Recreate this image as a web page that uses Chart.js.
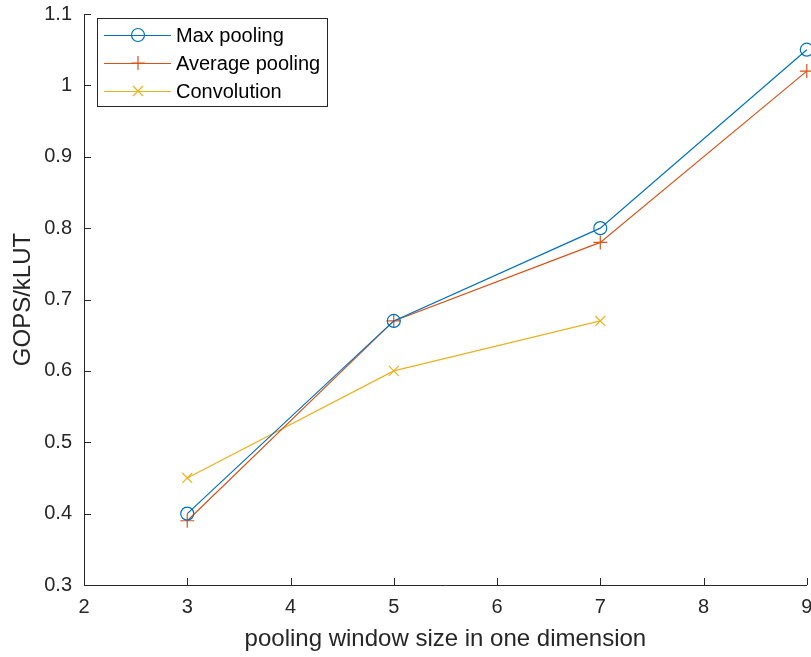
<!DOCTYPE html>
<html>
<head>
<meta charset="utf-8">
<script src="https://cdn.jsdelivr.net/npm/chart.js@4"></script>
<style>
  html, body { margin: 0; padding: 0; background: #fff; overflow: hidden; }
  #wrap { width: 815px; height: 657px; }
</style>
</head>
<body>
<div id="wrap"><canvas id="grafico"></canvas></div>
<script>
// datos
const ventanas = [3, 5, 7, 9];
const maxPooling = [0.40, 0.67, 0.80, 1.05];
const avgPooling = [0.39, 0.67, 0.78, 1.02];
const ventanasConv = [3, 5, 7];
const convolucion = [0.45, 0.60, 0.67];
const ticksX = [2, 3, 4, 5, 6, 7, 8, 9];
const ticksY = [0.3, 0.4, 0.5, 0.6, 0.7, 0.8, 0.9, 1, 1.1];

const nombres = ['Max pooling', 'Average pooling', 'Convolution'];
const colores = ['#0072BD', '#D95319', '#EDB120'];
const marcadores = ['circle', 'cross', 'crossRot'];
const ejeColor = '#262626';
const fuente = 'Liberation Sans, Arial, Helvetica, sans-serif';

function puntos(xs, ys) {
    return xs.map((x, i) => ({ x: x, y: ys[i] }));
}

// sin relleno extra por las etiquetas de los extremos
function sinRelleno(s) {
    s.paddingLeft = 0; s.paddingRight = 0; s.paddingTop = 0; s.paddingBottom = 0;
    s.getPadding = () => ({ left: 0, right: 0, top: 0, bottom: 0 });
}

// ticks hacia adentro y leyenda estilo MATLAB
const estiloMatlab = {
    id: 'estiloMatlab',
    afterDraw(chart) {
        const ctx = chart.ctx;
        const xs = chart.scales.x, ys = chart.scales.y;
        const area = chart.chartArea;
        ctx.save();
        ctx.strokeStyle = ejeColor;
        ctx.lineWidth = 1;
        ctx.beginPath();
        ticksX.forEach(v => {
            const px = Math.round(xs.getPixelForValue(v)) + 0.5;
            ctx.moveTo(px, area.bottom);
            ctx.lineTo(px, area.bottom - 7);
        });
        ticksY.forEach(v => {
            const py = Math.round(ys.getPixelForValue(v)) + 0.5;
            ctx.moveTo(area.left, py);
            ctx.lineTo(area.left + 7, py);
        });
        ctx.stroke();

        // leyenda
        const bx = 97.5, by = 18.5, bw = 230, bh = 88;
        ctx.fillStyle = '#fff';
        ctx.fillRect(bx, by, bw, bh);
        ctx.strokeStyle = ejeColor;
        ctx.strokeRect(bx, by, bw, bh);
        const filas = [35, 63, 91];
        ctx.font = '20px ' + fuente;
        ctx.textBaseline = 'middle';
        nombres.forEach((n, i) => {
            const y = filas[i];
            ctx.strokeStyle = colores[i];
            ctx.lineWidth = 1.2;
            ctx.beginPath();
            ctx.moveTo(104, y + 0.5);
            ctx.lineTo(171, y + 0.5);
            ctx.stroke();
            ctx.beginPath();
            if (i === 0) {
                ctx.arc(138, y, 6.5, 0, Math.PI * 2);
            } else if (i === 1) {
                ctx.moveTo(138, y - 7); ctx.lineTo(138, y + 7);
                ctx.moveTo(131, y); ctx.lineTo(145, y);
            } else {
                ctx.moveTo(133, y - 5); ctx.lineTo(143, y + 5);
                ctx.moveTo(133, y + 5); ctx.lineTo(143, y - 5);
            }
            ctx.stroke();
            ctx.fillStyle = '#000';
            ctx.fillText(n, 176, y + 1);
        });
        ctx.restore();
    }
};

const ctx = document.getElementById('grafico').getContext('2d');
new Chart(ctx, {
    type: 'line',
    data: {
        datasets: [
            {
                label: nombres[0],
                data: puntos(ventanas, maxPooling),
                borderColor: colores[0],
                backgroundColor: 'transparent',
                pointStyle: marcadores[0],
                pointRadius: 6.5,
                pointBorderColor: colores[0],
                pointBackgroundColor: 'transparent'
            },
            {
                label: nombres[1],
                data: puntos(ventanas, avgPooling),
                borderColor: colores[1],
                backgroundColor: 'transparent',
                pointStyle: marcadores[1],
                pointRadius: 7,
                pointBorderColor: colores[1]
            },
            {
                label: nombres[2],
                data: puntos(ventanasConv, convolucion),
                borderColor: colores[2],
                backgroundColor: 'transparent',
                pointStyle: marcadores[2],
                pointRadius: 7,
                pointBorderColor: colores[2]
            }
        ]
    },
    options: {
        responsive: true,
        maintainAspectRatio: false,
        animation: false,
        clip: false,
        elements: {
            line: { borderWidth: 1.2, tension: 0 },
            point: { borderWidth: 1.2, hoverRadius: 6 }
        },
        layout: { padding: { top: 14, right: 3, left: 0, bottom: 0 } },
        scales: {
            x: {
                type: 'linear',
                min: 2,
                max: 9,
                afterBuildTicks: s => { s.ticks = ticksX.map(v => ({ value: v })); },
                afterFit: s => { s.height = 72; sinRelleno(s); },
                grid: { display: false, drawTicks: false },
                border: { display: true, color: ejeColor, width: 1 },
                ticks: {
                    color: ejeColor,
                    padding: 10,
                    maxRotation: 0,
                    font: { family: fuente, size: 20 }
                },
                title: {
                    display: true,
                    text: 'pooling window size in one dimension',
                    color: ejeColor,
                    font: { family: fuente, size: 24 },
                    padding: { top: 0, bottom: 3 }
                }
            },
            y: {
                type: 'linear',
                min: 0.3,
                max: 1.1,
                afterBuildTicks: s => { s.ticks = ticksY.map(v => ({ value: v })); },
                afterFit: s => { s.width = 84; sinRelleno(s); },
                grid: { display: false, drawTicks: false },
                border: { display: true, color: ejeColor, width: 1 },
                ticks: {
                    color: ejeColor,
                    padding: 12,
                    font: { family: fuente, size: 20 },
                    callback: v => String(Math.round(v * 10) / 10)
                },
                title: {
                    display: true,
                    text: 'GOPS/kLUT',
                    color: ejeColor,
                    font: { family: fuente, size: 24 },
                    padding: { top: 9, bottom: 0 }
                }
            }
        },
        plugins: {
            legend: { display: false },
            tooltip: { enabled: false }
        }
    },
    plugins: [estiloMatlab]
});
</script>
</body>
</html>
